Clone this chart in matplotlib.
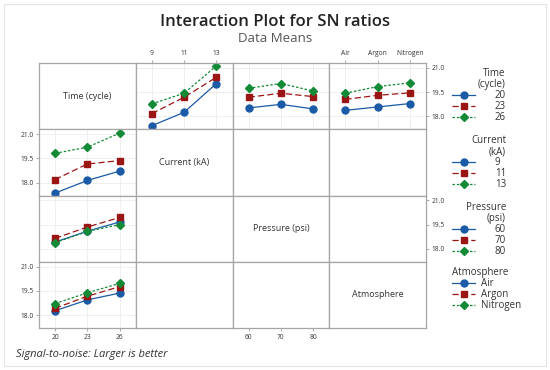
import matplotlib
matplotlib.use("Agg")
import matplotlib.pyplot as plt
from matplotlib.lines import Line2D
from matplotlib.patches import Rectangle

plt.rcParams['font.family'] = ['Open Sans', 'DejaVu Sans']

# factor levels
time_lv = ["20", "23", "26"]
current_lv = ["9", "11", "13"]
pressure_lv = ["60", "70", "80"]
atmos_lv = ["Air", "Argon", "Nitrogen"]

# row 1: traces = Time (20, 23, 26)
time_by_current = [[17.42, 18.25, 20.03],
                   [18.17, 19.18, 20.42],
                   [18.77, 19.43, 21.12]]
time_by_pressure = [[18.52, 18.74, 18.46],
                    [19.18, 19.43, 19.22],
                    [19.74, 20.03, 19.57]]
time_by_atmos = [[18.37, 18.58, 18.79],
                 [19.05, 19.30, 19.45],
                 [19.43, 19.84, 20.07]]
# column 1: x = Time
current_by_time = [[17.35, 18.13, 18.71],
                   [18.19, 19.15, 19.36],
                   [19.81, 20.19, 21.06]]
pressure_by_time = [[18.42, 19.09, 19.66],
                    [18.65, 19.35, 19.94],
                    [18.38, 19.08, 19.50]]
atmos_by_time = [[18.27, 18.94, 19.36],
                 [18.42, 19.17, 19.76],
                 [18.71, 19.38, 19.96]]

yticks = [18.0, 19.5, 21.0]
colors = ["#1a5aa6", "#9c1515", "#138a36"]
markers = ["o", "s", "D"]
styles = ["-", (0, (5, 2.5)), (0, (2, 1.5))]
msizes = [5, 5, 4.5]

W, H = 550, 370
fig = plt.figure(figsize=(5.5, 3.7), dpi=100)
fig.patches.append(Rectangle((0.008, 0.012), 0.984, 0.976, transform=fig.transFigure,
                             fill=False, ec="#e4e4e4", lw=0.8))

left, right, top, bottom = 39, 426, 63, 328
cw = (right - left) / 4
rh = (bottom - top) / 4
axes = []
for r in range(4):
    row = []
    for c in range(4):
        ax = fig.add_axes([(left + c * cw) / W, 1 - (top + (r + 1) * rh) / H, cw / W, rh / H])
        ax.set_xlim(-0.5, 2.5)
        ax.set_ylim(17.2, 21.3)
        ax.set_xticks([])
        ax.set_yticks([])
        for s in ax.spines.values():
            s.set_color("#a6a6a6")
            s.set_linewidth(0.9)
        row.append(ax)
    axes.append(row)


def draw(ax, series):
    ax.set_xticks(range(3))
    ax.set_yticks(yticks)
    ax.grid(True, color="#ececec", lw=0.6)
    ax.set_axisbelow(True)
    ax.tick_params(length=0, labelbottom=False, labelleft=False)
    for i, ys in enumerate(series):
        ax.plot(range(3), ys, color=colors[i], ls=styles[i], lw=0.9,
                marker=markers[i], ms=msizes[i])


draw(axes[0][1], time_by_current)
draw(axes[0][2], time_by_pressure)
draw(axes[0][3], time_by_atmos)
draw(axes[1][0], current_by_time)
draw(axes[2][0], pressure_by_time)
draw(axes[3][0], atmos_by_time)

tk = dict(labelsize=4.8, length=2, width=0.5, color="#888888", labelcolor="#333333", pad=2)

# top tick labels
for ax, lv in [(axes[0][1], current_lv), (axes[0][3], atmos_lv)]:
    ax.xaxis.tick_top()
    ax.set_xticks(range(3))
    ax.set_xticklabels(lv)
    ax.tick_params(axis="x", top=True, labeltop=True, **tk)

# bottom tick labels
for ax, lv in [(axes[3][0], time_lv), (axes[3][2], pressure_lv)]:
    ax.set_xticks(range(3))
    ax.set_xticklabels(lv)
    ax.tick_params(axis="x", bottom=True, labelbottom=True, **tk)

# y tick labels
for ax in [axes[0][3], axes[2][3]]:
    ax.set_yticks(yticks)
    ax.yaxis.tick_right()
    ax.set_yticklabels(["%.1f" % v for v in yticks])
    ax.tick_params(axis="y", right=True, labelright=True, **tk)
for ax in [axes[1][0], axes[3][0]]:
    ax.set_yticks(yticks)
    ax.set_yticklabels(["%.1f" % v for v in yticks])
    ax.tick_params(axis="y", left=True, labelleft=True, **tk)

names = ["Time (cycle)", "Current (kA)", "Pressure (psi)", "Atmosphere"]
for i, n in enumerate(names):
    axes[i][i].text(0.5, 0.5, n, transform=axes[i][i].transAxes, ha="center", va="center",
                    fontsize=6.5, color="#333333")

# legends
leg_info = [("Time\n(cycle)", time_lv, 68, "right"),
            ("Current\n(kA)", current_lv, 135, "right"),
            ("Pressure\n(psi)", pressure_lv, 202, "right"),
            ("Atmosphere", atmos_lv, 267, "left")]
for title, lv, ytop, al in leg_info:
    handles = [Line2D([], [], color=colors[i], ls=styles[i], lw=0.9, marker=markers[i],
                      ms=msizes[i]) for i in range(3)]
    pad = 2.0 if al == "right" else 0.6
    leg = fig.legend(handles, lv, loc="upper left", bbox_to_anchor=(452 / W, 1 - ytop / H),
                     frameon=False, fontsize=7, title=title, title_fontsize=7,
                     alignment=al, handlelength=2.4, handleheight=0.5, handletextpad=pad,
                     labelspacing=0.0, borderaxespad=0, borderpad=0)
    leg.get_title().set_multialignment(al)
    leg.get_title().set_color("#333333")
    leg.get_title().set_linespacing(1.0)
    for t in leg.get_texts():
        t.set_color("#333333")

fig.text(0.5, 1 - 22 / H, "Interaction Plot for SN ratios", ha="center", va="center",
         fontsize=12, fontweight="semibold", color="#222222")
fig.text(0.5, 1 - 38 / H, "Data Means", ha="center", va="center", fontsize=9.5, color="#555555")
fig.text(16 / W, 1 - 354 / H, "Signal-to-noise: Larger is better", ha="left", va="center",
         fontsize=8, style="italic", color="#333333")

fig.savefig("out.png", dpi=100)
